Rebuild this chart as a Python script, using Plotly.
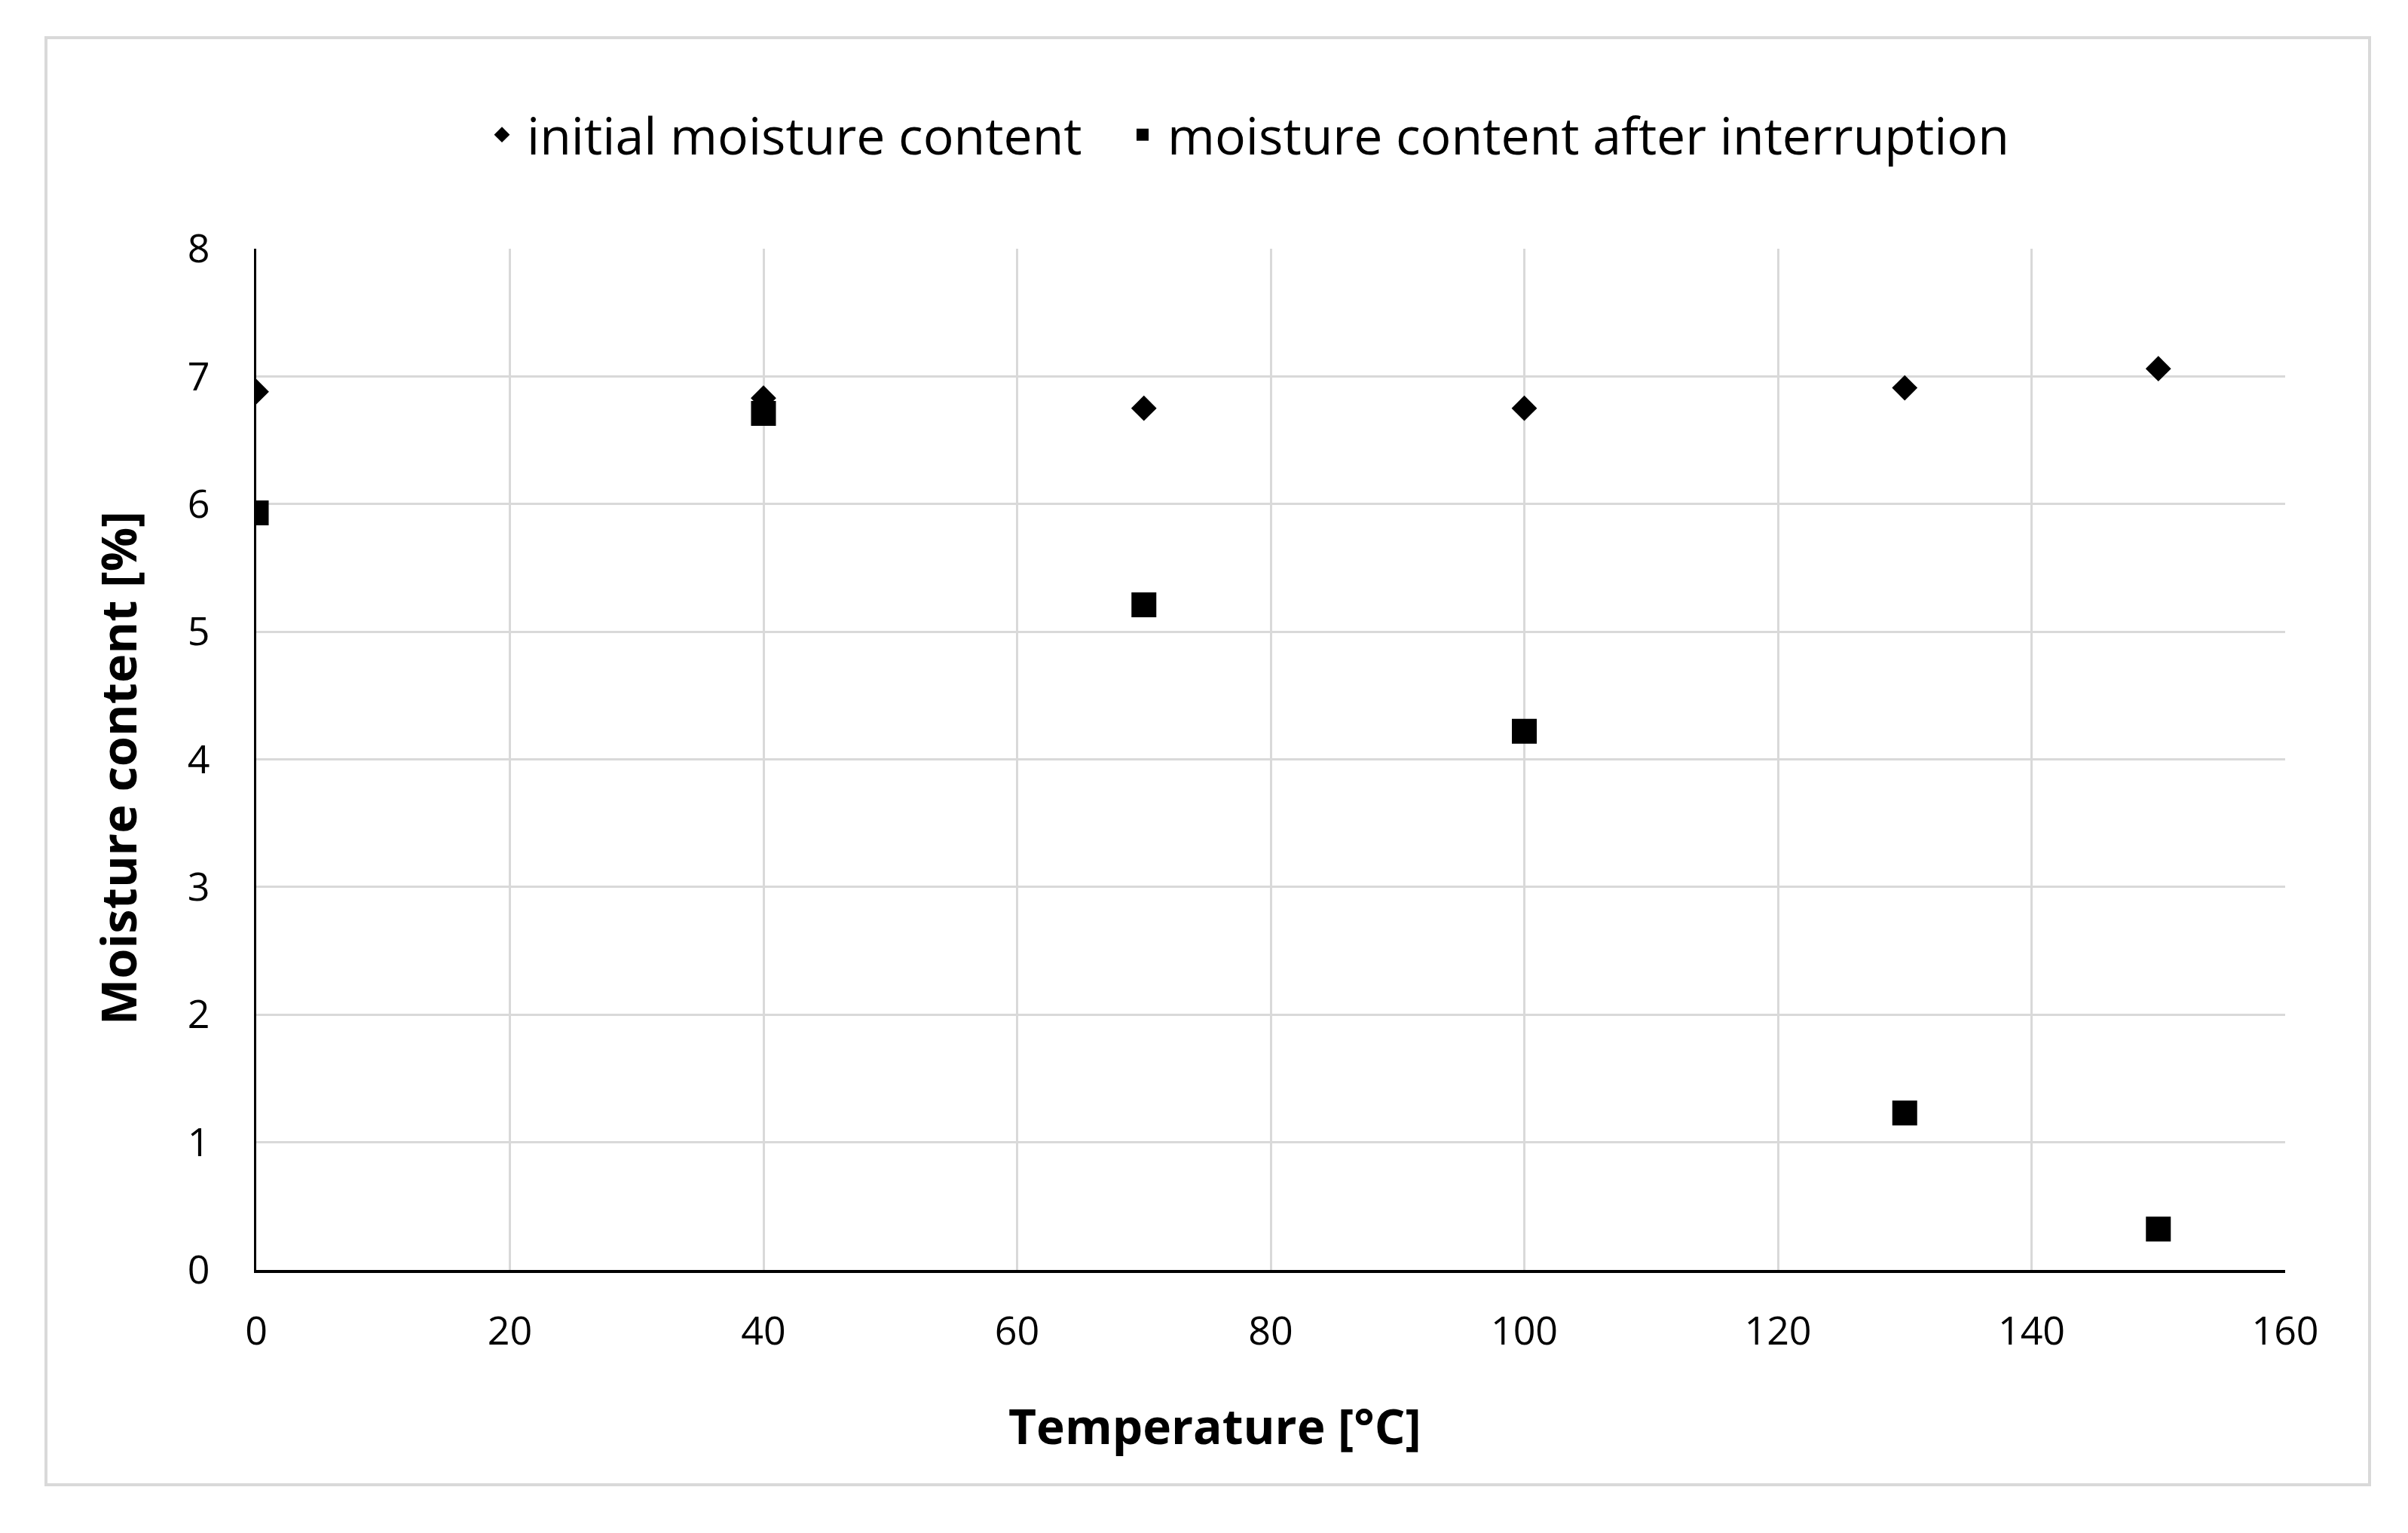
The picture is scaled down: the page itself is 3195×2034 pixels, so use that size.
import plotly.graph_objects as go

temperature = [0, 40, 70, 100, 130, 150]
initial_moisture = [6.88, 6.83, 6.75, 6.75, 6.91, 7.06]
after_interruption = [5.93, 6.71, 5.21, 4.22, 1.23, 0.32]

x_ticks = [0, 20, 40, 60, 80, 100, 120, 140, 160]
y_ticks = [0, 1, 2, 3, 4, 5, 6, 7, 8]

# page is rendered with an 8px body margin
OFF = 8
W, H = 3195 - 2 * OFF, 2034 - 2 * OFF
# plot area in page coordinates
L, R, T, B = 340, 3032, 330, 1685
pw, ph = R - L, B - T

def px(x):
    return (x - L) / pw

def py(y):
    return (B - y) / ph

FONT = "Open Sans"
LEG_FONT = dict(size=68, family=FONT, color="black")

fig = go.Figure()
fig.add_trace(go.Scatter(
    x=temperature, y=initial_moisture, mode="markers",
    name="initial moisture content", legend="legend",
    marker=dict(symbol="diamond", size=26, color="black", line=dict(width=0)),
))
fig.add_trace(go.Scatter(
    x=temperature, y=after_interruption, mode="markers",
    name="moisture content after interruption", legend="legend2",
    marker=dict(symbol="square", size=33, color="black", line=dict(width=0)),
))

fig.update_layout(
    width=W, height=H,
    margin=dict(l=L - OFF, r=(OFF + W) - R, t=T - OFF, b=(OFF + H) - B, pad=0),
    paper_bgcolor="white", plot_bgcolor="white",
    font=dict(family=FONT, color="black"),
    showlegend=True,
    legend=dict(
        orientation="h", x=px(633), xanchor="left", y=py(179), yanchor="middle",
        font=LEG_FONT, bgcolor="rgba(0,0,0,0)", itemwidth=56,
    ),
    legend2=dict(
        orientation="h", x=px(1483), xanchor="left", y=py(179), yanchor="middle",
        font=LEG_FONT, bgcolor="rgba(0,0,0,0)", itemwidth=56,
    ),
    xaxis=dict(
        range=[0, 160], tickvals=x_ticks, ticktext=[str(v) for v in x_ticks],
        showgrid=True, gridcolor="#d9d9d9", gridwidth=3,
        showline=True, linecolor="black", linewidth=4,
        zeroline=False, ticks="", ticklabelstandoff=33,
        tickfont=dict(size=52, family=FONT, color="black"),
    ),
    yaxis=dict(
        range=[0, 8], tickvals=y_ticks, ticktext=[str(v) for v in y_ticks],
        showgrid=True, gridcolor="#d9d9d9", gridwidth=3,
        showline=True, linecolor="black", linewidth=3,
        zeroline=False, ticks="", ticklabelstandoff=48,
        tickfont=dict(size=52, family=FONT, color="black"),
    ),
    annotations=[
        dict(text="<b>Temperature [°C]</b>", x=px(1612), y=py(1891), xref="paper", yref="paper",
             xanchor="center", yanchor="middle", showarrow=False,
             font=dict(size=64, family=FONT, color="black")),
        dict(text="<b>Moisture content [%]</b>", x=px(156), y=py(1019), xref="paper", yref="paper",
             xanchor="center", yanchor="middle", showarrow=False, textangle=-90,
             font=dict(size=65, family=FONT, color="black")),
    ],
    shapes=[
        dict(type="rect", xref="paper", yref="paper",
             x0=px(61), x1=px(3144), y0=py(1970), y1=py(50),
             line=dict(color="#d9d9d9", width=4), fillcolor="rgba(0,0,0,0)", layer="below"),
    ],
)

fig.write_html("out.html")
